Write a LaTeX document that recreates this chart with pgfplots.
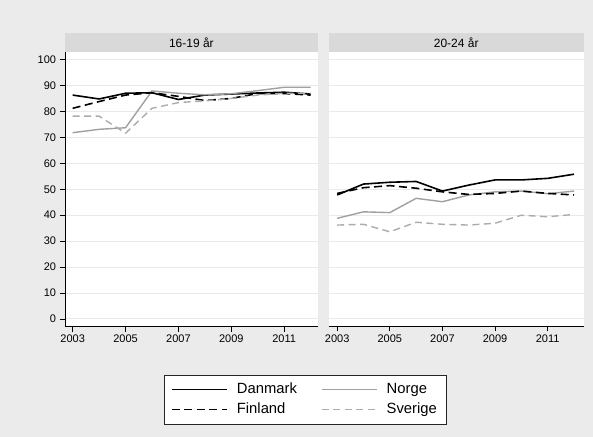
\documentclass[border=0pt]{standalone}
\usepackage{fontspec}
\setmainfont{Liberation Sans}
\usepackage{pgfplots}
\pgfplotsset{compat=1.18}
\usepackage{pgfplotstable}

\definecolor{bg}{RGB}{234,235,234}
\definecolor{strip}{RGB}{217,217,217}
\definecolor{gridc}{RGB}{234,234,234}
\definecolor{norge}{RGB}{160,160,160}
\definecolor{sverige}{RGB}{172,172,172}

% 16-19 år
\pgfplotstableread{
year dk fi no se
2003 86.3 81.2 71.8 78.2
2004 84.8 83.8 73.1 78.2
2005 87.0 86.3 73.7 71.6
2006 87.2 87.2 87.9 81.2
2007 84.6 85.8 87.0 83.4
2008 86.3 84.2 86.4 84.1
2009 86.7 85.0 86.8 85.0
2010 87.1 86.9 88.0 86.3
2011 87.4 86.9 89.3 87.0
2012 86.7 86.3 89.3 87.0
}\young

% 20-24 år
\pgfplotstableread{
year dk fi no se
2003 47.8 48.4 38.8 36.2
2004 52.0 50.6 41.3 36.5
2005 52.7 51.4 41.0 33.6
2006 53.0 50.4 46.5 37.3
2007 49.3 49.0 45.2 36.5
2008 51.6 48.0 47.8 36.2
2009 53.6 48.4 49.0 36.9
2010 53.6 49.3 49.3 40.0
2011 54.2 48.4 48.3 39.4
2012 55.8 47.8 49.3 40.3
}\older

\tikzset{
  dk/.style={black, line width=1.6bp},
  fi/.style={black, line width=1.6bp, dash pattern=on 8bp off 4.5bp},
  no/.style={norge, line width=1.4bp},
  se/.style={sverige, line width=1.4bp, dash pattern=on 7bp off 4.5bp},
}

\pgfplotsset{
  panel/.style={
    scale only axis, height=274bp,
    ymin=-2.7, ymax=102.9,
    ytick={0,10,...,100}, xtick={2003,2005,...,2011},
    ymajorgrids, major grid style={gridc, line width=1bp},
    axis background/.style={fill=white},
    axis x line*=bottom,
    axis line style={-, line width=0.8bp},
    tick align=outside, major tick length=5.5bp,
    tick style={black, line width=0.8bp},
    /pgf/number format/assume math mode=true,
    tick label style={font=\fontsize{11bp}{13bp}\selectfont},
    xticklabel style={/pgf/number format/1000 sep={}},
    every axis title/.style={at={(0.5,1)}, anchor=south, fill=strip,
      inner sep=0pt, minimum height=19bp,
      font=\fontsize{12bp}{14bp}\selectfont},
    legend image code/.code={\path[draw=none,fill=none] (0bp,-10bp) rectangle (63bp,10bp);
      \draw[#1, line width=1.5bp] (0bp,0bp) -- (55bp,0bp);},
  },
}

\begin{document}
\begin{tikzpicture}
\fill[bg] (0,0) rectangle (593bp,437bp);
\useasboundingbox (0,0) rectangle (593bp,437bp);

\begin{axis}[panel, at={(65bp,111bp)}, anchor=south west,
  width=252.7bp, xmin=2002.71, xmax=2012.27,
  axis y line*=left,
  title={16-19 år}, title style={minimum width=252.7bp},
  legend columns=2, legend cell align=left,
  legend style={at={(axis description cs:0.9498,-0.268)}, anchor=center,
    draw=black!85, fill=white,
    font=\fontsize{14.8bp}{17bp}\selectfont,
    nodes={text depth=3.5bp, text height=10.7bp},
    inner xsep=7bp, inner ysep=4.5bp, row sep=0bp,
    /tikz/every even column/.append style={column sep=22bp}}]
\addplot[dk] table[x=year,y=dk]{\young};
\addlegendentry{Danmark}
\addplot[no] table[x=year,y=no]{\young};
\addlegendentry{Norge}
\addplot[fi] table[x=year,y=fi]{\young};
\addlegendentry{Finland}
\addplot[se] table[x=year,y=se]{\young};
\addlegendentry{Sverige}
\end{axis}

\begin{axis}[panel, at={(328.5bp,111bp)}, anchor=south west,
  width=255.5bp, xmin=2002.67, xmax=2012.38,
  axis y line*=left, y axis line style={draw=none},
  ytick style={draw=none}, yticklabels={},
  title={20-24 år}, title style={minimum width=255.5bp}]
\addplot[dk] table[x=year,y=dk]{\older};
\addplot[no] table[x=year,y=no]{\older};
\addplot[fi] table[x=year,y=fi]{\older};
\addplot[se] table[x=year,y=se]{\older};
\end{axis}
\end{tikzpicture}
\end{document}
